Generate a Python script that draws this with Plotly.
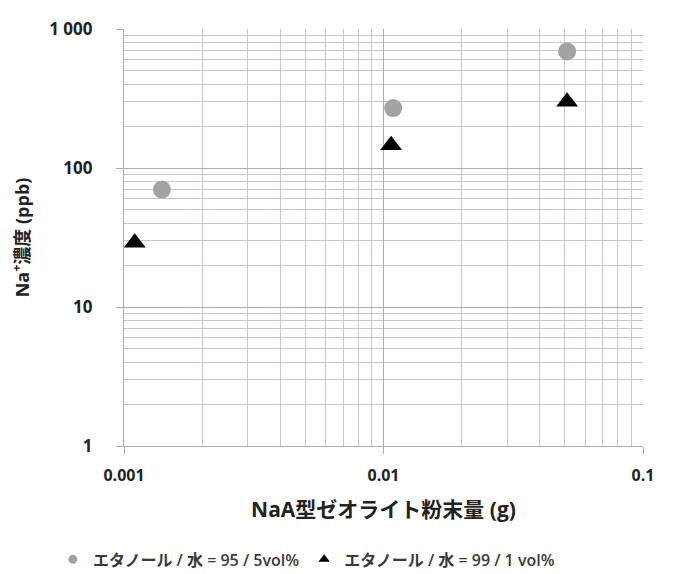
import plotly.graph_objects as go

# Data
x_95 = [0.0014, 0.0109, 0.051]
y_95 = [70, 270, 690]
x_99 = [0.0011, 0.0107, 0.051]
y_99 = [29, 146, 300]

name_95 = "エタノール / 水 = 95 / 5vol%"
name_99 = "エタノール / 水 = 99 / 1 vol%"

x_ticks = [0.001, 0.01, 0.1]
x_ticktext = ["0.001", "0.01", "0.1"]
y_ticks = [1, 10, 100, 1000]
y_ticktext = ["1", "10", "100", "1 000"]

x_title = "NaA型ゼオライト粉末量 (g)"
y_title = "Na<sup>+</sup>濃度 (ppb)"

FONT = "Open Sans, Noto Sans CJK JP, sans-serif"
GRID = "#cfc5c5"
MAJOR = "#b3a8a8"

x_minor = [m * 10 ** e for e in (-3, -2) for m in range(2, 10)]
y_minor = [m * 10 ** e for e in (0, 1, 2) for m in range(2, 10)]

fig = go.Figure()
fig.add_trace(go.Scatter(x=x_95, y=y_95, mode="markers", showlegend=False,
                         marker=dict(symbol="circle", size=18, color="#a3a3a3")))
fig.add_trace(go.Scatter(x=x_99, y=y_99, mode="markers", showlegend=False,
                         marker=dict(symbol="triangle-up", size=19, color="#000000")))
# legend entries with small markers
fig.add_trace(go.Scatter(x=[None], y=[None], mode="markers", name=name_95,
                         marker=dict(symbol="circle", size=9, color="#a3a3a3")))
fig.add_trace(go.Scatter(x=[None], y=[None], mode="markers", name=name_99,
                         marker=dict(symbol="triangle-up", size=10, color="#000000")))

fig.update_layout(
    width=665, height=566,
    margin=dict(l=116, r=30, t=21, b=128, autoexpand=False),
    paper_bgcolor="white", plot_bgcolor="white",
    font=dict(family=FONT, color="#222222"),
    legend=dict(orientation="h", x=-0.137, xanchor="left", y=-0.272, yanchor="middle",
                font=dict(size=16, color="#3a3a3a", weight=600),
                tracegroupgap=0),
)
fig.update_xaxes(
    type="log", range=[-3, -1],
    tickvals=x_ticks, ticktext=x_ticktext,
    tickfont=dict(size=16, family=FONT, color="#222222", weight="bold"),
    ticks="outside", ticklen=7, tickcolor=MAJOR, ticklabelstandoff=8,
    showgrid=True, gridcolor=MAJOR, gridwidth=1.3,
    showline=True, linecolor=MAJOR, linewidth=1.3, mirror=False,
    minor=dict(tickvals=x_minor, showgrid=True, gridcolor=GRID, gridwidth=1, ticks=""),
    title=dict(text=x_title, font=dict(size=21, family=FONT, color="#222222", weight="bold"),
               standoff=16),
    zeroline=False,
)
fig.update_yaxes(
    type="log", range=[0, 3],
    tickvals=y_ticks, ticktext=y_ticktext,
    tickfont=dict(size=17, family=FONT, color="#222222", weight="bold"),
    ticks="outside", ticklen=7, tickcolor=MAJOR, ticklabelstandoff=20,
    showgrid=True, gridcolor=MAJOR, gridwidth=1.3,
    showline=True, linecolor=MAJOR, linewidth=1.3, mirror=False,
    minor=dict(tickvals=y_minor, showgrid=True, gridcolor=GRID, gridwidth=1, ticks=""),
    title=dict(text=y_title, font=dict(size=18, family=FONT, color="#222222", weight="bold"),
               standoff=17),
    zeroline=False,
)
fig.write_html("out.html")
